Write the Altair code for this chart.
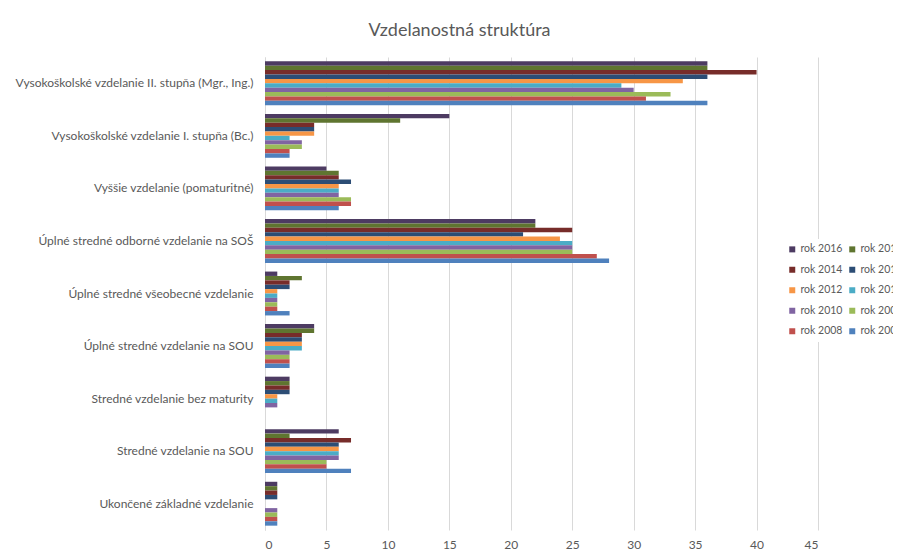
import altair as alt
import pandas as pd

categories = [
    "Vysokoškolské vzdelanie II. stupňa (Mgr., Ing.)",
    "Vysokoškolské vzdelanie I. stupňa (Bc.)",
    "Vyššie vzdelanie (pomaturitné)",
    "Úplné stredné odborné vzdelanie na SOŠ",
    "Úplné stredné všeobecné vzdelanie",
    "Úplné stredné vzdelanie na SOU",
    "Stredné vzdelanie bez maturity",
    "Stredné vzdelanie na SOU",
    "Ukončené základné vzdelanie",
]

years = ["rok 2016", "rok 2015", "rok 2014", "rok 2013", "rok 2012",
         "rok 2011", "rok 2010", "rok 2009", "rok 2008", "rok 2007"]

colors = ["#4d3b62", "#5f7530", "#772c2a", "#2c4d75", "#f79646",
          "#4bacc6", "#8064a2", "#9bbb59", "#c0504d", "#4f81bd"]

rok_2016 = [36, 15, 5, 22, 1, 4, 2, 6, 1]
rok_2015 = [36, 11, 6, 22, 3, 4, 2, 2, 1]
rok_2014 = [40, 4, 6, 25, 2, 3, 2, 7, 1]
rok_2013 = [36, 4, 7, 21, 2, 3, 2, 6, 1]
rok_2012 = [34, 4, 6, 24, 1, 3, 1, 6, 0]
rok_2011 = [29, 2, 6, 25, 1, 3, 1, 6, 0]
rok_2010 = [30, 3, 6, 25, 1, 2, 1, 6, 1]
rok_2009 = [33, 3, 7, 25, 1, 2, 0, 5, 1]
rok_2008 = [31, 2, 7, 27, 1, 2, 0, 5, 1]
rok_2007 = [36, 2, 6, 28, 2, 2, 0, 7, 1]

series = [rok_2016, rok_2015, rok_2014, rok_2013, rok_2012,
          rok_2011, rok_2010, rok_2009, rok_2008, rok_2007]

x_ticks = [0, 5, 10, 15, 20, 25, 30, 35, 40, 45]

rows = []
for year, vals in zip(years, series):
    for cat, v in zip(categories, vals):
        rows.append({"kategoria": cat, "rok": year, "hodnota": v})
df = pd.DataFrame(rows)

FONT = "Lato"
TXT = "#595959"

chart = alt.Chart(df).mark_bar().encode(
    y=alt.Y("kategoria:N", sort=categories, title=None,
            scale=alt.Scale(paddingInner=0.165, paddingOuter=0.0825),
            axis=alt.Axis(domain=True, domainColor="#d9d9d9", ticks=False,
                          grid=False, labelFont=FONT, labelFontSize=12,
                          labelColor=TXT, labelPadding=12, labelLimit=400)),
    yOffset=alt.YOffset("rok:N", sort=years),
    x=alt.X("hodnota:Q", title=None,
            scale=alt.Scale(domain=[0, 45], nice=False),
            axis=alt.Axis(values=x_ticks, domain=False, ticks=False,
                          grid=True, gridColor="#d9d9d9", labelFont=FONT,
                          labelFontSize=12, labelColor=TXT, labelPadding=9)),
    color=alt.Color("rok:N", sort=years,
                    scale=alt.Scale(domain=years, range=colors),
                    legend=alt.Legend(title=None, orient="none",
                                      direction="horizontal",
                                      legendX=517, legendY=182, columns=2,
                                      symbolType="square", symbolSize=36,
                                      symbolStrokeWidth=0,
                                      labelFont=FONT, labelFontSize=10.5,
                                      labelColor=TXT, labelOffset=3,
                                      columnPadding=4, rowPadding=9.5,
                                      fillColor="white", padding=5)),
).properties(
    width=553,
    height=473,
    title=alt.TitleParams("Vzdelanostná struktúra", font=FONT, fontSize=18,
                          fontWeight="normal", color=TXT, anchor="middle",
                          frame="group", dx=-82, offset=17),
    autosize=alt.AutoSizeParams(type="none"),
    padding={"left": 257, "top": 49, "right": 75, "bottom": 22},
).configure_view(stroke=None)

chart.save("out.html", embed_options={"renderer": "svg", "actions": False})
